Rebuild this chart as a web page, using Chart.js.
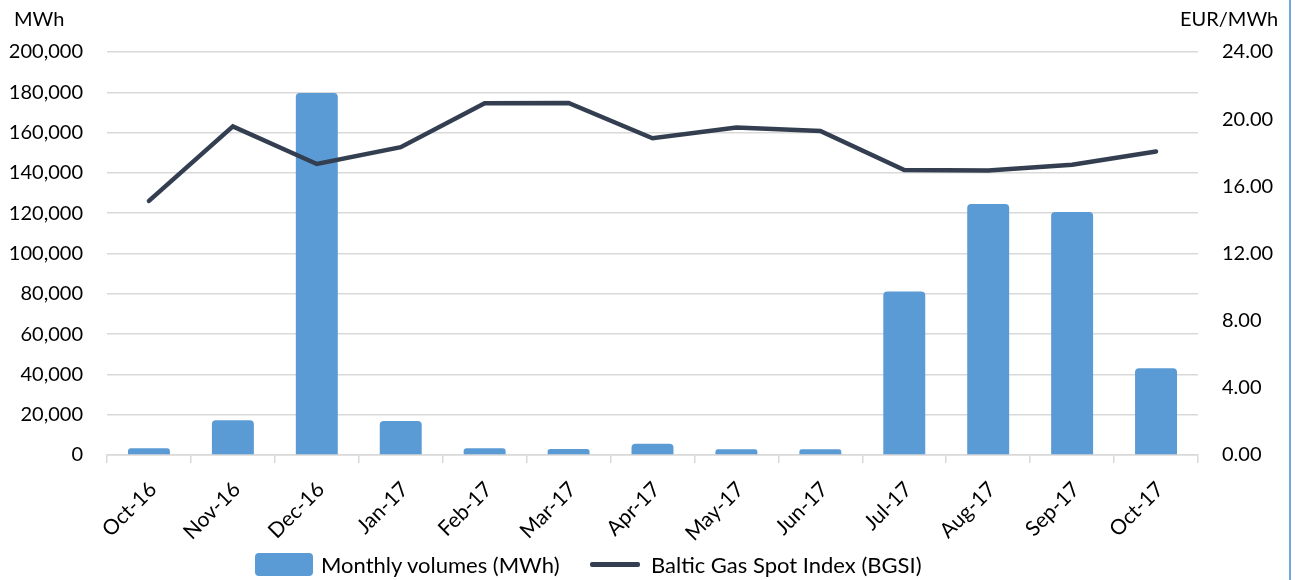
<!DOCTYPE html>
<html>
<head>
<meta charset="utf-8">
<script src="https://cdn.jsdelivr.net/npm/chart.js@4"></script>
<style>
  html, body { margin: 0; padding: 0; background: #fff; }
  #wrap { position: relative; width: 1295px; height: 580px; overflow: hidden; font-family: Lato, "Open Sans", sans-serif; color: #000; }
  canvas { position: absolute; left: 0; top: 0; }
  .axt { position: absolute; font-size: 20px; top: 6px; }
  #legend { position: absolute; top: 552px; left: 0; width: 1295px; font-size: 22px; }
  .li { position: absolute; top: 0; display: flex; align-items: center; height: 25px; white-space: nowrap; }
  .sw-bar { width: 58px; height: 23px; background: #5B9BD5; border-radius: 4px; margin-right: 8px; }
  .sw-line { width: 50px; height: 5px; background: #333F50; border-radius: 2px; margin-right: 11px; }
  #edge { position: absolute; left: 1289px; top: 0; width: 2px; height: 580px; background: #6FA8DC; }
</style>
</head>
<body>
<div id="wrap">
  <canvas id="c" width="1295" height="580"></canvas>
  <div class="axt" style="left:14px;">MWh</div>
  <div class="axt" style="left:1180px;">EUR/MWh</div>
  <div id="legend">
    <div class="li" style="left:255px;"><div class="sw-bar"></div><span>Monthly volumes (MWh)</span></div>
    <div class="li" style="left:590px;"><div class="sw-line"></div><span>Baltic Gas Spot Index (BGSI)</span></div>
  </div>
  <div id="edge"></div>
</div>
<script>
const categories = ["Oct-16","Nov-16","Dec-16","Jan-17","Feb-17","Mar-17","Apr-17","May-17","Jun-17","Jul-17","Aug-17","Sep-17","Oct-17"];
const monthlyVolumes = [3300, 17300, 179600, 16900, 3400, 3000, 5600, 2800, 2800, 81200, 124600, 120600, 43000];
const bgsi = [15.13, 19.57, 17.33, 18.33, 20.95, 20.97, 18.86, 19.50, 19.30, 16.97, 16.95, 17.28, 18.08];
const leftTicks = [0, 20000, 40000, 60000, 80000, 100000, 120000, 140000, 160000, 180000, 200000];
const rightTicks = [0, 4, 8, 12, 16, 20, 24];

const FONT = { family: "Lato, 'Open Sans', sans-serif", size: 20 };
const XFONT = { family: "Lato, 'Open Sans', sans-serif", size: 21 };
const GRID = "#D9D9D9";

new Chart(document.getElementById('c'), {
  data: {
    labels: categories,
    datasets: [
      {
        type: 'line', label: 'Baltic Gas Spot Index (BGSI)', data: bgsi, yAxisID: 'y1',
        borderColor: '#333F50', backgroundColor: '#333F50', borderWidth: 4.5,
        pointRadius: 0, tension: 0, order: 0, borderCapStyle: 'round', borderJoinStyle: 'miter'
      },
      {
        type: 'bar', label: 'Monthly volumes (MWh)', data: monthlyVolumes, yAxisID: 'y',
        backgroundColor: '#5B9BD5', borderColor: '#5B9BD5', borderWidth: 0,
        borderRadius: { topLeft: 4, topRight: 4 }, borderSkipped: 'bottom',
        categoryPercentage: 1, barPercentage: 0.5, order: 1
      }
    ]
  },
  options: {
    responsive: false, animation: false,
    layout: { padding: { top: 52, bottom: 30, left: 0, right: 0 } },
    plugins: { legend: { display: false }, tooltip: { enabled: false } },
    scales: {
      x: {
        offset: true,
        grid: { display: true, offset: true, drawOnChartArea: false, drawTicks: true, tickLength: 8, color: GRID, lineWidth: 1.5 },
        border: { display: true, color: GRID, width: 1.5 },
        ticks: { font: XFONT, color: '#000', minRotation: 45, maxRotation: 45, padding: 14, labelOffset: 4, autoSkip: false },
        afterFit: s => { s.height = 95; }
      },
      y: {
        position: 'left', min: 0, max: 200000,
        afterBuildTicks: s => { s.ticks = leftTicks.map(v => ({ value: v })); },
        grid: { color: GRID, lineWidth: 1.5, drawTicks: false },
        border: { display: false },
        ticks: { font: FONT, color: '#000', padding: 24, callback: v => v.toLocaleString('en-US') },
        afterFit: s => { s.width = 107; }
      },
      y1: {
        position: 'right', min: 0, max: 24,
        afterBuildTicks: s => { s.ticks = rightTicks.map(v => ({ value: v })); },
        grid: { display: false, drawTicks: false },
        border: { display: false },
        ticks: { font: FONT, color: '#000', padding: 24, callback: v => Number(v).toFixed(2) },
        afterFit: s => { s.width = 97; }
      }
    }
  }
});
</script>
</body>
</html>
